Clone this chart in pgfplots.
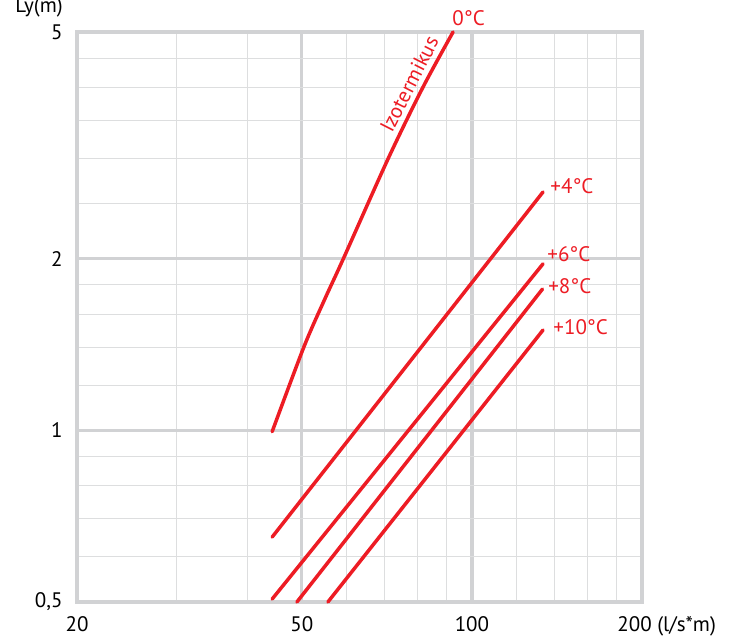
\documentclass[border=0pt]{standalone}
\usepackage{fontspec}
\setmainfont{PT Sans}
\usepackage{pgfplots}
\pgfplotsset{compat=1.18}
\definecolor{lred}{HTML}{ED1C24}
\definecolor{gmaj}{HTML}{D1D2D4}
\definecolor{gmin}{HTML}{DDDEDF}
\begin{document}
\begin{tikzpicture}[font=\fontsize{10.5}{12}\selectfont]
\begin{axis}[
 scale only axis, width=282.5pt, height=285pt,
 xmode=log, ymode=log,
 xmin=20, xmax=200, ymin=0.5, ymax=5,
 xtick={20,50,100,200}, xticklabels={20,50,100,{}},
 minor xtick={30,40,60,70,80,90,120,140,160,180},
 ytick={0.5,1,2,5}, yticklabels={{0,5},1,2,5},
 minor ytick={0.6,0.7,0.8,0.9,1.2,1.4,1.6,1.8,2.5,3,3.5,4,4.5},
 grid=both,
 major grid style={draw=gmaj, line width=1.6pt},
 minor grid style={draw=gmin, line width=0.55pt},
 axis line style={draw=gmaj, line width=1.6pt},
 major tick length=0pt, minor tick length=0pt,
 xticklabel style={anchor=north, inner sep=0pt, yshift=-7pt},
 yticklabel style={anchor=east, inner sep=0pt, xshift=-7pt},
 clip=false,
 rl/.style={draw=lred, line width=1.75pt, line cap=round, line join=round, mark=none},
]
% 0 C (Izotermikus)
\addplot[rl, smooth] coordinates {(44.3,0.995) (50.4,1.40) (54.9,1.70) (59.2,2.0) (71.1,3.0) (81.9,4.0) (92.6,5.0)};
% +4 C
\addplot[rl] coordinates {(44.3,0.650) (133.6,2.62)};
% +6 C
\addplot[rl] coordinates {(44.3,0.506) (133.6,1.96)};
% +8 C
\addplot[rl] coordinates {(49.0,0.5) (133.3,1.77)};
% +10 C
\addplot[rl] coordinates {(55.6,0.5) (133.6,1.50)};

\node[lred, anchor=west, inner sep=0pt] at (axis cs:92.2,5.29) {0°C};
\node[lred, anchor=west, inner sep=0pt] at (axis cs:137.5,2.68) {+4°C};
\node[lred, anchor=west, inner sep=0pt] at (axis cs:135.8,2.04) {+6°C};
\node[lred, anchor=west, inner sep=0pt] at (axis cs:136.3,1.79) {+8°C};
\node[lred, anchor=west, inner sep=0pt] at (axis cs:139.2,1.52) {+10°C};
\node[lred, rotate=63, anchor=base, inner sep=0pt] at ([shift={(-2.9pt,1.5pt)}]axis cs:81.4,3.95) {Izotermikus};

\node[anchor=north west, inner sep=0pt] at (rel axis cs:1,0) [xshift=-12.5pt, yshift=-7pt] {200 (l/s*m)};
\node[anchor=center, inner sep=0pt] at (rel axis cs:0,1) [xshift=-19pt, yshift=12.5pt] {Ly(m)};
\end{axis}
\pgfresetboundingbox
\path[use as bounding box] ([shift={(-38.5pt,-16.5pt)}]current axis.south west) rectangle ([shift={(49pt,16pt)}]current axis.north east);
\end{tikzpicture}
\end{document}
